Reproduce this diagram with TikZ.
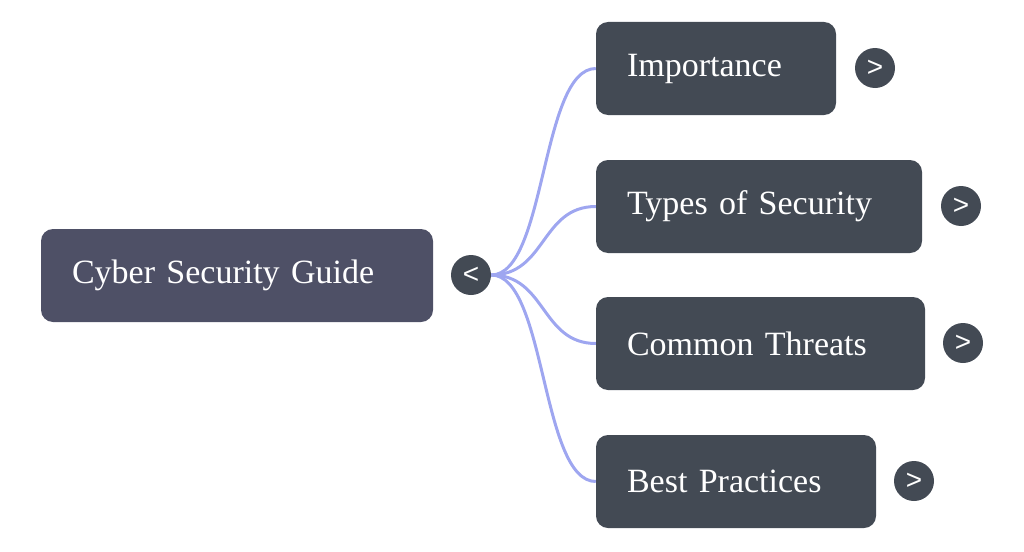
\documentclass[tikz,border=0pt]{standalone}
\usepackage{fontspec}
\setmainfont{Liberation Serif}
\newfontfamily\glyphfont{Liberation Sans}
\definecolor{rootfill}{HTML}{4E5066}
\definecolor{childfill}{HTML}{434A54}
\definecolor{linkcol}{HTML}{9EA6F0}
\begin{document}
\begin{tikzpicture}[x=1pt,y=1pt,
  box/.style={rounded corners=12pt, minimum height=93pt, inner xsep=31pt, inner ysep=0pt,
    align=left, text=white, font=\fontsize{34}{40}\selectfont, anchor=center},
  rootbox/.style={box, fill=rootfill},
  childbox/.style={box, fill=childfill},
  toggle/.style={circle, fill=childfill, minimum size=40pt, inner sep=0pt, text=white,
    font=\glyphfont\fontsize{28}{30}\selectfont},
  conn/.style={draw=linkcol, line width=3pt}]
\useasboundingbox (0,0) rectangle (1024,-551);
\node[rootbox, text width=330pt] (root) at (237,-275.5) {Cyber Security Guide};
\node[toggle] (rc) at (471,-275) {<};
\node[childbox, text width=178pt] (imp) at (716,-68.5) {Importance};
\node[childbox, text width=264pt] (typ) at (759,-206.5) {Types of Security};
\node[childbox, text width=267pt] (thr) at (760.5,-343.5) {Common Threats};
\node[childbox, text width=218pt] (best) at (736,-481.5) {Best Practices};
\node[toggle] (ic) at (875,-68) {>};
\node[toggle] (tc) at (961,-206) {>};
\node[toggle] (hc) at (963,-343) {>};
\node[toggle] (bc) at (914,-481) {>};
\foreach \c in {imp,typ,thr,best}{
  \draw[conn] (rc.east) .. controls +(55,0) and +(-55,0) .. (\c.west);
}
\end{tikzpicture}
\end{document}
